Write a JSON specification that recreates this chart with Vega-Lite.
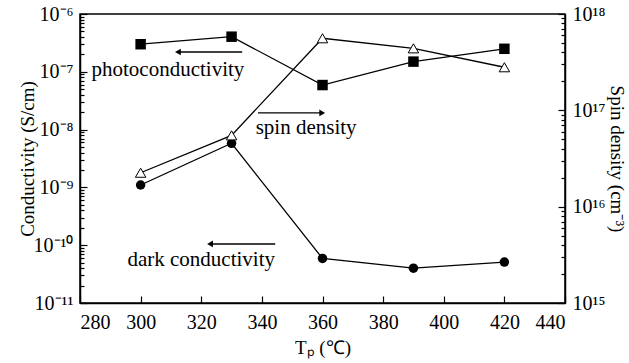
{
  "$schema": "https://vega.github.io/schema/vega-lite/v6.json",
  "width": 485,
  "height": 289,
  "autosize": {"type": "none"},
  "padding": {"left": 80, "top": 14, "right": 64, "bottom": 60},
  "background": "white",
  "config": {
    "font": "Liberation Serif",
    "view": {"stroke": "black", "strokeWidth": 1.5},
    "axis": {
      "domainColor": "black", "domainWidth": 1.5, "tickColor": "black", "tickWidth": 1.2,
      "labelColor": "black", "labelFont": "Liberation Serif", "labelFontSize": 20,
      "titleColor": "black", "titleFont": "Liberation Serif", "titleFontSize": 19, "titleFontWeight": "normal",
      "grid": false
    }
  },
  "datasets": {
    "pts": [
      {"T": 300, "series": "photo", "value": 3.0e-7},
      {"T": 330, "series": "photo", "value": 4.05e-7},
      {"T": 360, "series": "photo", "value": 5.9e-8},
      {"T": 390, "series": "photo", "value": 1.5e-7},
      {"T": 420, "series": "photo", "value": 2.5e-7},
      {"T": 300, "series": "dark", "value": 1.1e-9},
      {"T": 330, "series": "dark", "value": 5.8e-9},
      {"T": 360, "series": "dark", "value": 5.9e-11},
      {"T": 390, "series": "dark", "value": 4.0e-11},
      {"T": 420, "series": "dark", "value": 5.1e-11},
      {"T": 300, "series": "spin", "value": 2.25e16},
      {"T": 330, "series": "spin", "value": 5.5e16},
      {"T": 360, "series": "spin", "value": 5.6e17},
      {"T": 390, "series": "spin", "value": 4.4e17},
      {"T": 420, "series": "spin", "value": 2.8e17}
    ],
    "notes": [
      {"T": 309, "value": 1.07e-7, "label": "photoconductivity"},
      {"T": 354.6, "value": 1.07e-8, "label": "spin density"},
      {"T": 320, "value": 5.5e-11, "label": "dark conductivity"}
    ],
    "arrows": [
      {"T": 333.5, "T2": 312.3, "value": 2.2e-7, "dir": "left"},
      {"T": 338.7, "T2": 359.9, "value": 1.94e-8, "dir": "right"},
      {"T": 344.4, "T2": 322.9, "value": 1.05e-10, "dir": "left"}
    ]
  },
  "resolve": {"scale": {"y": "independent"}},
  "layer": [
    {
      "encoding": {
        "x": {
          "field": "T", "type": "quantitative",
          "scale": {"domain": [280, 440], "nice": false, "zero": false},
          "axis": {
            "title": "Tₚ (℃)",
            "values": [280, 290, 300, 310, 320, 330, 340, 350, 360, 370, 380, 390, 400, 410, 420, 430, 440],
            "labelExpr": "datum.value % 20 == 0 ? datum.label : ''",
            "tickSize": {"condition": {"test": "datum.value % 20 == 0", "value": -7}, "value": -4},
            "labelPadding": 16,
            "titlePadding": 6
          }
        },
        "y": {
          "field": "value", "type": "quantitative",
          "scale": {"type": "log", "domain": [1e-11, 1e-6], "nice": false},
          "axis": {
            "title": "Conductivity (S/cm)",
            "values": [1e-11, 2e-11, 3e-11, 4e-11, 5e-11, 6e-11, 7e-11, 8e-11, 9e-11,
                       1e-10, 2e-10, 3e-10, 4e-10, 5e-10, 6e-10, 7e-10, 8e-10, 9e-10,
                       1e-9, 2e-9, 3e-9, 4e-9, 5e-9, 6e-9, 7e-9, 8e-9, 9e-9,
                       1e-8, 2e-8, 3e-8, 4e-8, 5e-8, 6e-8, 7e-8, 8e-8, 9e-8,
                       1e-7, 2e-7, 3e-7, 4e-7, 5e-7, 6e-7, 7e-7, 8e-7, 9e-7, 1e-6],
            "labelExpr": "abs(log(datum.value)/LN10 - round(log(datum.value)/LN10)) < 0.01 ? ['10⁻¹¹','10⁻¹⁰','10⁻⁹','10⁻⁸','10⁻⁷','10⁻⁶'][round(log(datum.value)/LN10)+11] : ''",
            "tickSize": {"condition": {"test": "abs(log(datum.value)/LN10 - round(log(datum.value)/LN10)) < 0.01", "value": -7}, "value": -4},
            "labelPadding": 14,
            "titlePadding": -4
          }
        }
      },
      "layer": [
        {
          "data": {"name": "pts"},
          "transform": [{"filter": "datum.series != 'spin'"}],
          "mark": {"type": "line", "color": "black", "strokeWidth": 1.3},
          "encoding": {"detail": {"field": "series"}}
        },
        {
          "data": {"name": "pts"},
          "transform": [{"filter": "datum.series == 'photo'"}],
          "mark": {"type": "point", "shape": "square", "filled": true, "color": "black", "size": 110, "opacity": 1}
        },
        {
          "data": {"name": "pts"},
          "transform": [{"filter": "datum.series == 'dark'"}],
          "mark": {"type": "point", "shape": "circle", "filled": true, "color": "black", "size": 90, "opacity": 1}
        },
        {
          "data": {"name": "notes"},
          "mark": {"type": "text", "font": "Liberation Serif", "fontSize": 21, "color": "black", "align": "center", "baseline": "middle"},
          "encoding": {"text": {"field": "label"}}
        },
        {
          "data": {"name": "arrows"},
          "mark": {"type": "rule", "color": "black", "strokeWidth": 1.3},
          "encoding": {"x2": {"field": "T2"}}
        },
        {
          "data": {"name": "arrows"},
          "mark": {"type": "point", "filled": true, "color": "black", "size": 45, "opacity": 1},
          "encoding": {
            "x": {"field": "T2", "type": "quantitative"},
            "shape": {"field": "dir", "type": "nominal", "scale": {"domain": ["left", "right"], "range": ["triangle-left", "triangle-right"]}, "legend": null}
          }
        }
      ]
    },
    {
      "data": {"name": "pts"},
      "transform": [{"filter": "datum.series == 'spin'"}],
      "encoding": {
        "x": {"field": "T", "type": "quantitative"},
        "y": {
          "field": "value", "type": "quantitative",
          "scale": {"type": "log", "domain": [1e15, 1e18], "nice": false},
          "axis": {
            "orient": "right",
            "title": "Spin density (cm⁻³)",
            "values": [1e15, 2e15, 3e15, 4e15, 5e15, 6e15, 7e15, 8e15, 9e15,
                       1e16, 2e16, 3e16, 4e16, 5e16, 6e16, 7e16, 8e16, 9e16,
                       1e17, 2e17, 3e17, 4e17, 5e17, 6e17, 7e17, 8e17, 9e17, 1e18],
            "labelExpr": "abs(log(datum.value)/LN10 - round(log(datum.value)/LN10)) < 0.01 ? ['10¹⁵','10¹⁶','10¹⁷','10¹⁸'][round(log(datum.value)/LN10)-15] : ''",
            "tickSize": {"condition": {"test": "abs(log(datum.value)/LN10 - round(log(datum.value)/LN10)) < 0.01", "value": -7}, "value": -4},
            "labelPadding": 14,
            "titlePadding": 2
          }
        }
      },
      "layer": [
        {"mark": {"type": "line", "color": "black", "strokeWidth": 1.3}},
        {"mark": {"type": "point", "shape": "triangle-up", "filled": true, "fill": "white", "stroke": "black", "strokeWidth": 1, "size": 110, "opacity": 1}}
      ]
    }
  ]
}
